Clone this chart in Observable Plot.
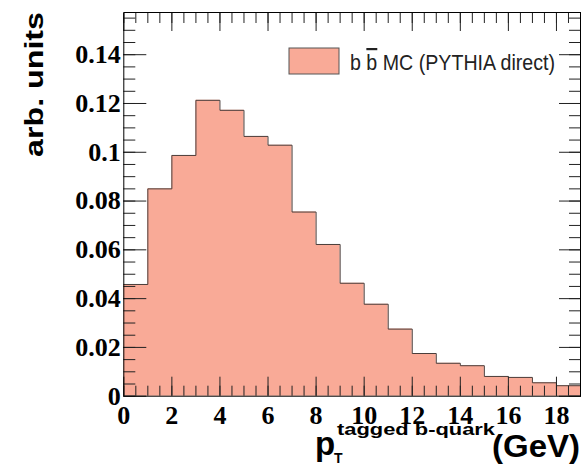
<!DOCTYPE html>
<html><head><meta charset="utf-8">
<script src="https://cdn.jsdelivr.net/npm/d3@7"></script>
<script src="https://cdn.jsdelivr.net/npm/@observablehq/plot@0.6"></script>
<style>
body{margin:0;background:#fff;}
#chart{position:relative;width:584px;height:466px;}
#chart svg{overflow:visible;}
</style>
</head><body><div id="chart"></div>
<script>
// bin edges (GeV) and bin contents (arb. units)
const binEdges = [0,1,2,3,4,5,6,7,8,9,10,11,12,13,14,15,16,17,18,19];
const binValues = [0.0458,0.0850,0.0987,0.1213,0.1172,0.1065,0.1029,0.0755,0.0622,0.0463,
                   0.0377,0.0275,0.0175,0.0135,0.0125,0.0081,0.0077,0.0055,0.0043];
const xTicks = [0,2,4,6,8,10,12,14,16,18];
const yTicks = [0,0.02,0.04,0.06,0.08,0.1,0.12,0.14];
const xMinorTicks = [0,0.5,1,1.5,2,2.5,3,3.5,4,4.5,5,5.5,6,6.5,7,7.5,8,8.5,9,9.5,10,10.5,11,11.5,12,12.5,13,13.5,14,14.5,15,15.5,16,16.5,17,17.5,18,18.5,19];
const yMinorTicks = [0,0.005,0.01,0.015,0.02,0.025,0.03,0.035,0.04,0.045,0.05,0.055,0.06,0.065,0.07,0.075,0.08,0.085,0.09,0.095,0.1,0.105,0.11,0.115,0.12,0.125,0.13,0.135,0.14,0.145,0.15,0.155];
const xDomain = [0, 19];
const yDomain = [0, 0.1573];
const seriesName = "MC (PYTHIA direct)";

const fillColor = "#f9aa97";
const lineColor = "#4a3e3b";

// histogram as a step outline (edges, contents) plus closing point
const outline = binValues.map((v, i) => ({x: binEdges[i], y: v}))
  .concat([{x: binEdges[binEdges.length - 1], y: binValues[binValues.length - 1]}]);

const tickFmt = d => d === 0 ? "0" : String(+d.toFixed(2));
const empty = () => "";

const svg = Plot.plot({
  width: 584,
  height: 466,
  marginLeft: 123.3,
  marginRight: 4,
  marginTop: 12,
  marginBottom: 70.3,
  x: {domain: xDomain},
  y: {domain: yDomain},
  style: {background: "transparent"},
  marks: [
    Plot.areaY(outline, {x: "x", y: "y", curve: "step-after", fill: fillColor}),
    Plot.line(outline, {x: "x", y: "y", curve: "step-after", stroke: lineColor, strokeWidth: 1}),
    // bottom axis
    Plot.axisX(xMinorTicks, {anchor: "bottom", tickSize: -10, tickFormat: empty, label: null, stroke: "#222"}),
    Plot.axisX(xTicks, {anchor: "bottom", tickSize: -19, tickFormat: empty, label: null, stroke: "#222"}),
    Plot.axisX(xTicks, {anchor: "bottom", tickSize: 0, tickPadding: 9, tickFormat: tickFmt, label: null,
      fontSize: 26, fontFamily: "Liberation Serif", fontWeight: "bold", fill: "black"}),
    // top axis
    Plot.axisX(xMinorTicks, {anchor: "top", tickSize: -10, tickFormat: empty, label: null, stroke: "#222"}),
    Plot.axisX(xTicks, {anchor: "top", tickSize: -18, tickFormat: empty, label: null, stroke: "#222"}),
    // left axis
    Plot.axisY(yMinorTicks, {anchor: "left", tickSize: -12, tickFormat: empty, label: null, stroke: "#222"}),
    Plot.axisY(yTicks, {anchor: "left", tickSize: -23, tickFormat: empty, label: null, stroke: "#222"}),
    Plot.axisY(yTicks, {anchor: "left", tickSize: 0, tickPadding: 3, tickFormat: tickFmt, label: null,
      fontSize: 26, fontFamily: "Liberation Serif", fontWeight: "bold", fill: "black"}),
    // right axis
    Plot.axisY(yMinorTicks, {anchor: "right", tickSize: -12, tickFormat: empty, label: null, stroke: "#222"}),
    Plot.axisY(yTicks, {anchor: "right", tickSize: -22, tickFormat: empty, label: null, stroke: "#222"}),
    Plot.frame({stroke: "black", strokeWidth: 1})
  ]
});

const s = d3.select(svg);
const sans = "Liberation Sans, Arial, Helvetica, sans-serif";

// y-axis title
s.append("text")
  .attr("transform", "translate(43.3,84.5) rotate(-90)")
  .attr("text-anchor", "middle")
  .attr("font-family", sans).attr("font-weight", "bold").attr("font-size", 26)
  .attr("textLength", 145).attr("lengthAdjust", "spacingAndGlyphs")
  .attr("fill", "black")
  .text("arb. units");

// x-axis title: p_T^{tagged b-quark} (GeV)
function addText(x, y, size, str, len) {
  const t = s.append("text").attr("x", x).attr("y", y)
    .attr("text-anchor", "start")
    .attr("font-family", sans).attr("font-weight", "bold").attr("font-size", size)
    .attr("fill", "black").text(str);
  if (len) t.attr("textLength", len).attr("lengthAdjust", "spacingAndGlyphs");
  return t;
}
addText(315, 455, 33, "p");
addText(334, 463, 14, "T");
addText(337, 434.5, 17, "tagged b-quark", 158);
addText(492, 457, 31, "(GeV)", 88);

// legend
s.append("rect").attr("x", 289).attr("y", 48).attr("width", 50).attr("height", 26)
  .attr("fill", fillColor).attr("stroke", "#555").attr("stroke-width", 1);
const lt = s.append("text").attr("x", 350).attr("y", 70)
  .attr("text-anchor", "start")
  .attr("font-family", sans).attr("font-size", 22).attr("fill", "#222")
  .attr("textLength", 205).attr("lengthAdjust", "spacingAndGlyphs");
lt.append("tspan").text("b ");
lt.append("tspan").style("text-decoration", "overline").text("b");
lt.append("tspan").text(" " + seriesName);

document.getElementById("chart").appendChild(svg);
</script>
</body></html>
